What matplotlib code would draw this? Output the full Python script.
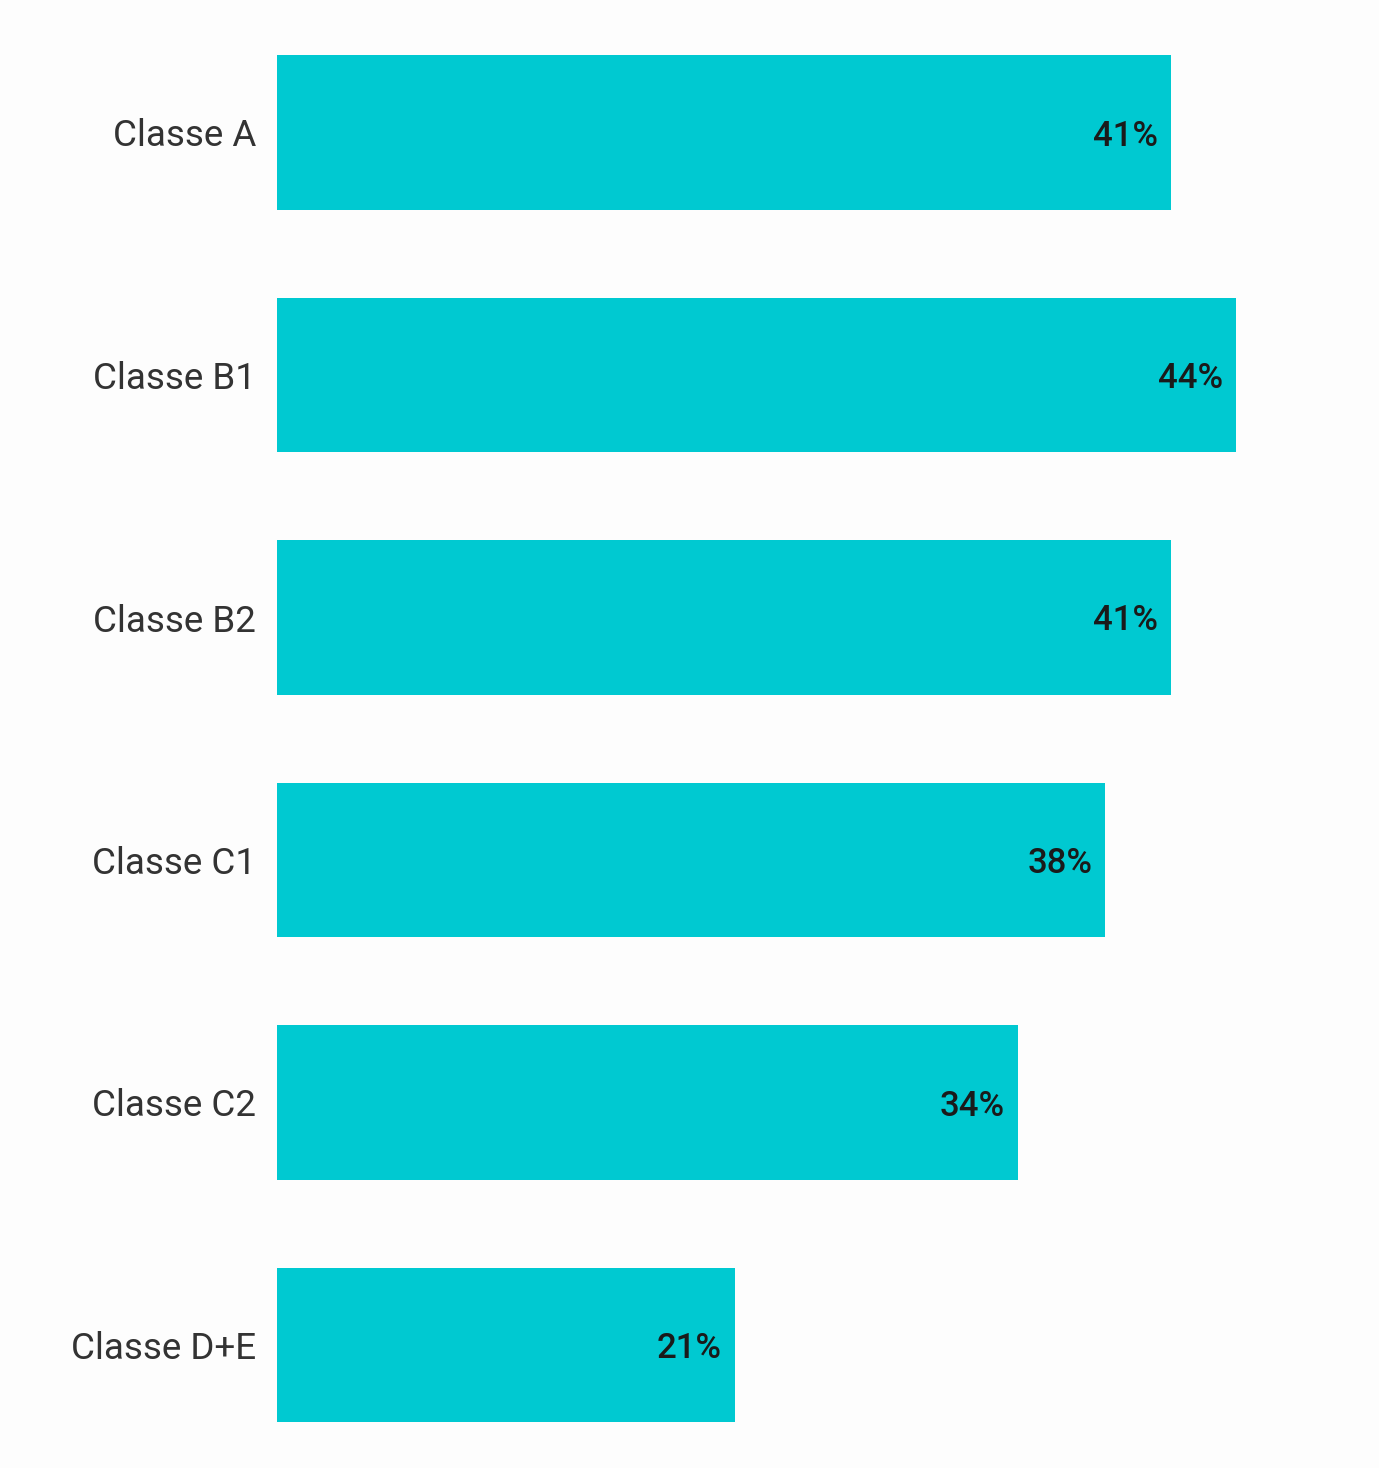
import matplotlib.pyplot as plt

# Data
categories = ["Classe A", "Classe B1", "Classe B2", "Classe C1", "Classe C2", "Classe D+E"]
values = [41, 44, 41, 38, 34, 21]
value_labels = [f"{v}%" for v in values]

BAR_COLOR = "#00C9D1"
BG_COLOR = "#fdfdfd"

plt.rcParams["font.family"] = ["Roboto", "DejaVu Sans"]

fig = plt.figure(figsize=(13.79, 14.68), dpi=100, facecolor=BG_COLOR)
ax = fig.add_axes([277 / 1379, 1.75 / 1468, 1102 / 1379, 1455 / 1468])
ax.set_facecolor(BG_COLOR)

y = range(len(categories))
ax.barh(y, values, height=0.637, color=BAR_COLOR)

for yi, v, lab in zip(y, values, value_labels):
    ax.text(v - 0.6, yi, lab, ha="right", va="center_baseline",
            fontsize=25, color="#1a1a1a", fontweight="medium")

ax.set_xlim(0, 50.55)
ax.set_ylim(len(categories) - 0.5, -0.5)
ax.set_yticks(list(y))
ax.set_yticklabels(categories, fontsize=26.5, color="#333333")
ax.tick_params(axis="y", length=0, pad=15)
ax.set_xticks([])
for s in ax.spines.values():
    s.set_visible(False)

fig.savefig("out.png", dpi=100, facecolor=BG_COLOR)
